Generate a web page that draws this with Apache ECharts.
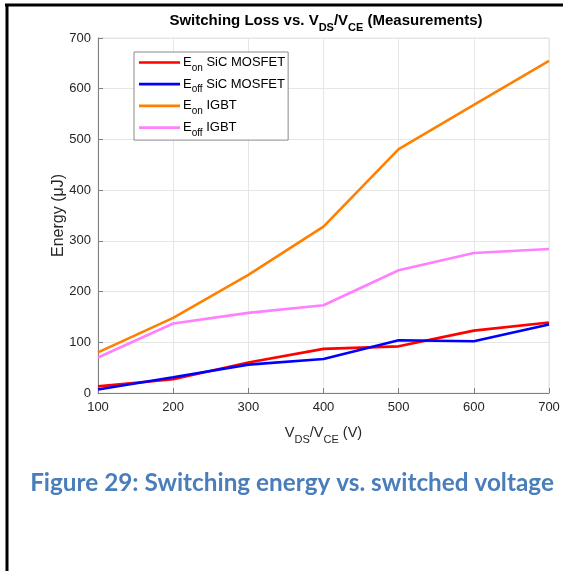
<!DOCTYPE html>
<html>
<head>
<meta charset="utf-8">
<title>Switching Loss vs. VDS/VCE</title>
<script src="https://cdn.jsdelivr.net/npm/echarts@6/dist/echarts.min.js"></script>
<style>
  html, body { margin: 0; padding: 0; background: #ffffff; }
  #chart { width: 565px; height: 571px; }
</style>
</head>
<body>
<div id="chart"></div>
<script>
// Switched voltage (V)
const voltages = [100, 200, 300, 400, 500, 600, 700];

// Measured switching energies (µJ)
const eonSic   = [13, 27, 60, 87, 92, 123, 139];
const eoffSic  = [7, 31, 56, 67, 104, 102, 135];
const eonIgbt  = [80, 148, 233, 328, 481, 568, 655];
const eoffIgbt = [70, 137, 158, 173, 242, 276, 284];

const xTicks = { min: 100, max: 700, step: 100 };
const yTicks = { min: 0, max: 700, step: 100 };

const seriesNames = ['eonSic', 'eoffSic', 'eonIgbt', 'eoffIgbt'];
const seriesLabels = {
  eonSic:   '{m|E}{s|on}{m| SiC MOSFET}',
  eoffSic:  '{m|E}{s|off}{m| SiC MOSFET}',
  eonIgbt:  '{m|E}{s|on}{m| IGBT}',
  eoffIgbt: '{m|E}{s|off}{m| IGBT}'
};
const seriesColors = {
  eonSic: '#ff0000', eoffSic: '#0000ff', eonIgbt: '#ff8000', eoffIgbt: '#ff80ff'
};
const seriesData = { eonSic, eoffSic, eonIgbt, eoffIgbt };

const FONT = 'Liberation Sans, Arial, sans-serif';
const subRich = (size) => ({
  m: { fontSize: size, fontFamily: FONT, color: '#000', lineHeight: size + 8, verticalAlign: 'middle' },
  s: { fontSize: size - 3, fontFamily: FONT, color: '#000', lineHeight: size - 3, verticalAlign: 'bottom' }
});

// flat bar used as the legend's line sample
const LEGEND_LINE = 'path://M0,0 L40,0 L40,2.6 L0,2.6 Z';

const chart = echarts.init(document.getElementById('chart'), null, { renderer: 'canvas' });

const option = {
  backgroundColor: '#ffffff',
  animation: false,
  title: [
    {
      text: '{m|Switching Loss vs. V}{s|DS}{m|/V}{s|CE}{m| (Measurements)}',
      left: 321,
      top: 4,
      textAlign: 'center',
      textStyle: {
        rich: {
          m: { fontSize: 15, fontWeight: 'bold', fontFamily: FONT, color: '#000', lineHeight: 24 },
          s: { fontSize: 11, fontWeight: 'bold', fontFamily: FONT, color: '#000', lineHeight: 11, verticalAlign: 'bottom' }
        }
      }
    },
    {
      text: 'Figure 29: Switching energy vs. switched voltage',
      left: 287,
      top: 466,
      textAlign: 'center',
      textStyle: { fontFamily: 'Lato, Open Sans, sans-serif', fontWeight: 'bold', fontSize: 24.3, color: '#4a7ebb' }
    }
  ],
  legend: {
    orient: 'vertical',
    left: 134,
    top: 52,
    data: seriesNames.map((n) => ({ name: n, icon: LEGEND_LINE })),
    formatter: (name) => seriesLabels[name],
    itemWidth: 41,
    itemHeight: 3,
    itemGap: 4.7,
    padding: [4, 3, 2, 5],
    backgroundColor: '#ffffff',
    borderColor: '#8a8a8a',
    borderWidth: 1,
    borderRadius: 0,
    textStyle: { padding: [0, 0, 0, -2], rich: subRich(13) }
  },
  grid: {
    left: 98, right: 16, top: 38, bottom: 178,
    show: true,
    borderColor: '#e2e2e2',
    borderWidth: 1,
    backgroundColor: '#ffffff'
  },
  xAxis: {
    type: 'value',
    min: xTicks.min, max: xTicks.max, interval: xTicks.step,
    name: '{m|V}{s|DS}{m|/V}{s|CE}{m| (V)}',
    nameLocation: 'middle',
    nameGap: 28,
    nameTextStyle: { rich: {
      m: { fontSize: 14.5, fontFamily: FONT, color: '#262626', lineHeight: 24 },
      s: { fontSize: 11, fontFamily: FONT, color: '#262626', lineHeight: 11, verticalAlign: 'bottom' }
    } },
    axisLine: { show: true, lineStyle: { color: '#808080', width: 1 } },
    axisTick: { show: true, inside: true, length: 5, lineStyle: { color: '#808080' } },
    axisLabel: { fontSize: 13, fontFamily: FONT, color: '#262626', margin: 8 },
    splitLine: { show: true, lineStyle: { color: '#e6e6e6', width: 1 } }
  },
  yAxis: {
    type: 'value',
    min: yTicks.min, max: yTicks.max, interval: yTicks.step,
    name: 'Energy (μJ)',
    nameLocation: 'middle',
    nameGap: 31,
    nameMoveOverlap: false,
    nameTextStyle: { fontSize: 16, fontFamily: FONT, color: '#262626', align: 'center' },
    axisLine: { show: true, lineStyle: { color: '#808080', width: 1 } },
    axisTick: { show: true, inside: true, length: 5, lineStyle: { color: '#808080' } },
    axisLabel: { fontSize: 13, fontFamily: FONT, color: '#262626', margin: 7 },
    splitLine: { show: true, lineStyle: { color: '#e6e6e6', width: 1 } }
  },
  series: seriesNames.map((key) => ({
    name: key,
    type: 'line',
    data: voltages.map((v, i) => [v, seriesData[key][i]]),
    symbol: 'none',
    showSymbol: false,
    lineStyle: { color: seriesColors[key], width: 2.6 },
    itemStyle: { color: seriesColors[key] },
    z: 3
  })),
  graphic: [
    { type: 'line', shape: { x1: 5, y1: 5, x2: 563, y2: 5 }, style: { stroke: '#000', lineWidth: 3 } },
    { type: 'line', shape: { x1: 7, y1: 4, x2: 7, y2: 571 }, style: { stroke: '#000', lineWidth: 3 } }
  ]
};

chart.setOption(option);
</script>
</body>
</html>
